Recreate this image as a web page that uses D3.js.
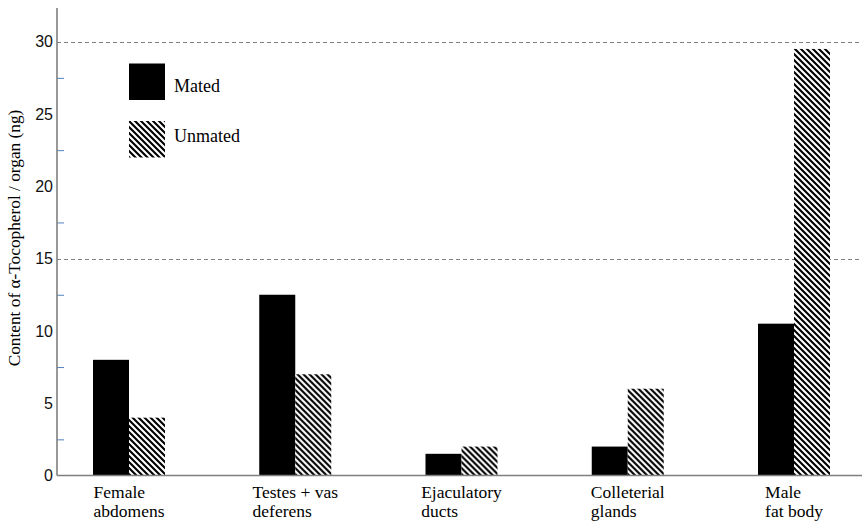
<!DOCTYPE html>
<html>
<head>
<meta charset="utf-8">
<script src="https://cdn.jsdelivr.net/npm/d3@7"></script>
<style>
  html, body { margin: 0; padding: 0; background: #fff; }
  svg { display: block; }
  .serif { font-family: "Liberation Serif", "Times New Roman", serif; }
  .sans { font-family: "Liberation Sans", Arial, sans-serif; }
</style>
</head>
<body>
<svg id="chart" width="862" height="521"></svg>
<script>
// Organs sampled, α-tocopherol content (ng per organ)
const categories = ["Female\nabdomens", "Testes + vas\ndeferens", "Ejaculatory\nducts", "Colleterial\nglands", "Male\nfat body"];
const series = ["Mated", "Unmated"];
const mated = [8, 12.5, 1.5, 2, 10.5];
const unmated = [4, 7, 2, 6, 29.5];
const yTicks = [0, 5, 10, 15, 20, 25, 30];
const yMinorTicks = [2.5, 7.5, 12.5, 17.5, 22.5, 27.5];
const gridValues = [15, 30];
const yTitle = "Content of α-Tocopherol / organ (ng)";

const rows = categories.map((c, i) => ({ cat: c, Mated: mated[i], Unmated: unmated[i] }));

const svg = d3.select("#chart");
const W = 862;
const axisX = 57;
const axisTop = 8;

const y = d3.scaleLinear().domain([0, 30]).range([475.5, 41.7]);
const x = d3.scalePoint().domain(categories).range([129, 794]);
const xs = d3.scaleBand().domain(series).range([-36, 36]).padding(0);

// Diagonal hatch for the unmated series
const defs = svg.append("defs");
const pat = defs.append("pattern")
  .attr("id", "hatch")
  .attr("patternUnits", "userSpaceOnUse")
  .attr("width", 6).attr("height", 6);
pat.append("rect").attr("width", 6).attr("height", 6).attr("fill", "#fff");
pat.append("path")
  .attr("d", "M-1,-1 L7,7 M-4,2 L2,8 M4,-2 L10,4")
  .attr("stroke", "#000").attr("stroke-width", 2.1).attr("fill", "none");

const fills = { Mated: "#000", Unmated: "url(#hatch)" };

// Dashed reference lines
svg.append("g").selectAll("line").data(gridValues).join("line")
  .attr("x1", axisX).attr("x2", W)
  .attr("y1", d => Math.round(y(d)) + 0.5).attr("y2", d => Math.round(y(d)) + 0.5)
  .attr("stroke", "#7f7f7f").attr("stroke-width", 1)
  .attr("stroke-dasharray", "4,3");

// Bars
const groups = svg.append("g").selectAll("g").data(rows).join("g")
  .attr("transform", d => `translate(${x(d.cat)},0)`);
groups.selectAll("rect").data(d => series.map(s => ({ s, v: d[s] }))).join("rect")
  .attr("x", d => xs(d.s))
  .attr("width", xs.bandwidth())
  .attr("y", d => y(d.v))
  .attr("height", d => y(0) - y(d.v))
  .attr("fill", d => fills[d.s]);

// Y axis
const yAxis = d3.axisLeft(y).tickValues(yTicks).tickSize(0).tickPadding(4).tickFormat(d3.format("d"));
const gy = svg.append("g").attr("transform", `translate(${axisX},0)`).call(yAxis);
gy.attr("font-family", null).attr("font-size", null).attr("class", "sans");
gy.select(".domain").remove();
gy.selectAll("text")
  .style("font-family", "'Liberation Sans', Arial, sans-serif")
  .style("font-size", "16px")
  .attr("fill", "#111");

// Minor ticks on the inner side
const yMinor = d3.axisRight(y).tickValues(yMinorTicks).tickSize(7).tickFormat("");
const gm = svg.append("g").attr("transform", `translate(${axisX},0)`).call(yMinor);
gm.select(".domain").remove();
gm.selectAll("line").attr("stroke", "#4f81bd").attr("stroke-width", 1);

// Axis lines
svg.append("line")
  .attr("x1", axisX).attr("x2", axisX)
  .attr("y1", axisTop).attr("y2", y(0))
  .attr("stroke", "#7f7f7f").attr("stroke-width", 1.6);
svg.append("line")
  .attr("x1", axisX).attr("x2", W)
  .attr("y1", y(0)).attr("y2", y(0))
  .attr("stroke", "#7f7f7f").attr("stroke-width", 1.6);

// Category labels: left-aligned lines, block centred under each group
const labels = svg.append("g").selectAll("text").data(categories).join("text")
  .attr("class", "serif")
  .style("font-size", "17.5px")
  .attr("fill", "#000");
labels.each(function (c) {
  const t = d3.select(this);
  c.split("\n").forEach((line, i) => {
    t.append("tspan").attr("y", 497.5 + i * 19.2).text(line);
  });
  let maxW = 0;
  t.selectAll("tspan").each(function () { maxW = Math.max(maxW, this.getComputedTextLength()); });
  t.selectAll("tspan").attr("x", x(c) - maxW / 2);
});

// Y title
svg.append("text")
  .attr("class", "serif")
  .attr("transform", "translate(20,238) rotate(-90)")
  .attr("text-anchor", "middle")
  .style("font-size", "17.3px")
  .attr("fill", "#000")
  .text(yTitle);

// Legend: swatch tops and label baselines
const legendTop = [63.5, 121];
const legendBaseline = [92, 142];
const legend = svg.append("g").selectAll("g").data(series).join("g")
  .attr("transform", (d, i) => `translate(129,${legendTop[i]})`);
legend.append("rect")
  .attr("width", 36).attr("height", 36.5)
  .attr("fill", d => fills[d]);
legend.append("text")
  .attr("class", "serif")
  .attr("x", 45).attr("y", (d, i) => legendBaseline[i] - legendTop[i])
  .style("font-size", "18px")
  .attr("fill", "#000")
  .text(d => d);
</script>
</body>
</html>
